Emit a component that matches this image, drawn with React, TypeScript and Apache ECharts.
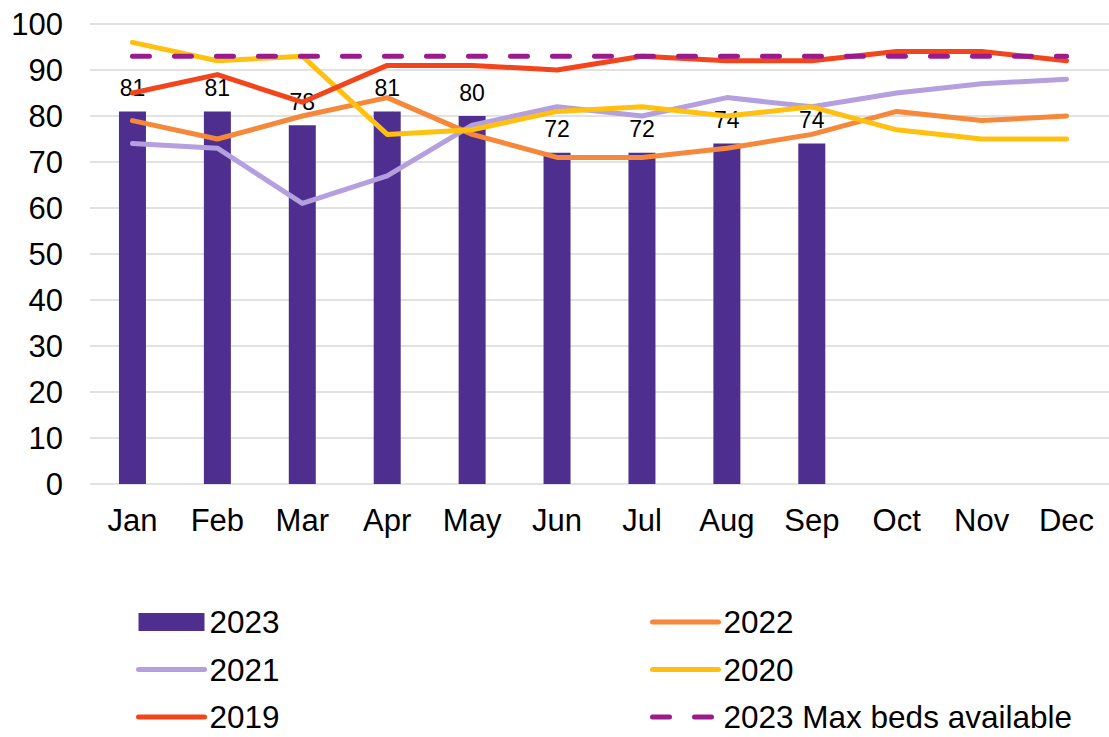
import React, { useEffect, useRef } from "react";
import * as echarts from "echarts";

const months = ["Jan", "Feb", "Mar", "Apr", "May", "Jun", "Jul", "Aug", "Sep", "Oct", "Nov", "Dec"];
const s2023 = [81, 81, 78, 81, 80, 72, 72, 74, 74, null, null, null];
const s2022 = [79, 75, 80, 84, 76, 71, 71, 73, 76, 81, 79, 80];
const s2021 = [74, 73, 61, 67, 78, 82, 80, 84, 82, 85, 87, 88];
const s2020 = [96, 92, 93, 76, 77, 81, 82, 80, 82, 77, 75, 75];
const s2019 = [85, 89, 83, 91, 91, 90, 93, 92, 92, 94, 94, 92];
const maxBeds = [93, 93, 93, 93, 93, 93, 93, 93, 93, 93, 93, 93];

const FONT = "Liberation Sans, Arial, sans-serif";

export default function App() {
  const ref = useRef<HTMLDivElement>(null);
  useEffect(() => {
    if (!ref.current) return;
    const chart = echarts.init(ref.current, undefined, { renderer: "svg" });
    const line = (name: string, data: number[], color: string, dashed = false) => ({
      name,
      type: "line",
      data,
      symbol: "none",
      lineStyle: {
        color,
        width: 5,
        cap: "round",
        join: "round",
        type: dashed ? [17, 25] : "solid",
      },
      itemStyle: { color },
      z: 3,
    });
    const legendBase = {
      orient: "vertical",
      itemWidth: 66,
      itemHeight: 18,
      itemGap: 15.5,
      height: 160,
      padding: 0,
      textStyle: { fontFamily: FONT, fontSize: 31.5, color: "#000", lineHeight: 32 },
      lineStyle: { width: 5, cap: "round" },
      top: 606,
    };
    const li = (name: string) => ({ name, itemStyle: { opacity: 0 } });
    chart.setOption({
      animation: false,
      textStyle: { fontFamily: FONT },
      grid: { left: 90, right: 0, top: 24, bottom: 253, containLabel: false },
      legend: [
        { ...legendBase, left: 136, data: [{ name: "2023", icon: "rect" }, li("2021"), li("2019")] },
        { ...legendBase, left: 650, data: [li("2022"), li("2020"), li("2023 Max beds available")] },
      ],
      xAxis: {
        type: "category",
        data: months,
        axisLine: { show: false },
        axisTick: { show: false },
        axisLabel: { fontFamily: FONT, fontSize: 31, color: "#000", margin: 21 },
      },
      yAxis: {
        type: "value",
        min: 0,
        max: 100,
        interval: 10,
        axisLine: { show: false },
        axisTick: { show: false },
        axisLabel: { fontFamily: FONT, fontSize: 31, color: "#000", margin: 27 },
        splitLine: { lineStyle: { color: "#D9D9D9", width: 1.5 } },
      },
      series: [
        {
          name: "2023",
          type: "bar",
          data: s2023,
          barWidth: 27,
          itemStyle: { color: "#4E2F90" },
          label: {
            show: true,
            position: "top",
            distance: 12,
            fontFamily: FONT,
            fontSize: 23,
            color: "#000",
          },
          z: 2,
        },
        line("2022", s2022, "#F5883A"),
        line("2021", s2021, "#B49FDF"),
        line("2020", s2020, "#FFC010"),
        line("2019", s2019, "#F2451C"),
        line("2023 Max beds available", maxBeds, "#9B1B8D", true),
      ],
    });
    return () => chart.dispose();
  }, []);
  return <div ref={ref} style={{ width: 1109, height: 737, position: "absolute", left: 0, top: 0 }} />;
}
